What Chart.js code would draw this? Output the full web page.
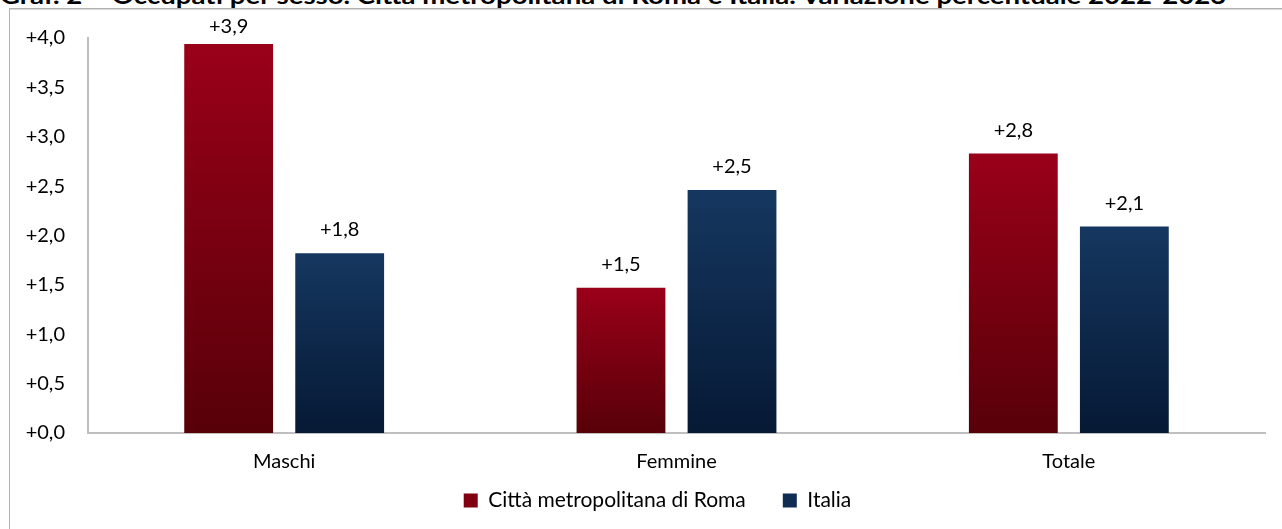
<!DOCTYPE html>
<html>
<head>
<meta charset="utf-8">
<script src="https://cdn.jsdelivr.net/npm/chart.js@4.4.1/dist/chart.umd.min.js"></script>
<style>
  body { margin: 0; background: #fff; overflow: hidden; }
  #title { position: absolute; left: 0; top: -18px; white-space: nowrap; font: bold 22px Lato, sans-serif; color: #000; transform-origin: 0 0; }
  #frame { position: absolute; left: 9px; top: 8px; width: 1320px; height: 600px; border: 1px solid #b3b3b3; box-shadow: 0 1px 0 #d9d9d9 inset; }
  #wrap { position: absolute; left: 0; top: 0; width: 1282px; height: 529px; }
</style>
</head>
<body>
<div id="title">Graf. 2 – Occupati per sesso. Città metropolitana di Roma e Italia. Variazione percentuale 2022-2023</div>
<div id="frame"></div>
<div id="wrap"><canvas id="chart"></canvas></div>
<script>
const categories = ['Maschi', 'Femmine', 'Totale'];
const roma = [3.94, 1.47, 2.83];
const italia = [1.82, 2.46, 2.09];
const seriesNames = ['Città metropolitana di Roma', 'Italia'];

const FONT = 'Lato, sans-serif';
const fmt = v => '+' + v.toFixed(1).replace('.', ',');

// title is wider in the original (Calibri bold), stretch it to match
const title = document.getElementById('title');
title.style.transform = 'scaleX(' + (1227 / title.scrollWidth) + ')';

// gradient from bar top to bar bottom, like the Excel fill
function barGradient(top, bottom) {
    return (c) => {
        const chart = c.chart;
        if (!chart.chartArea || !chart.scales.y || c.raw === undefined) return top;
        const y0 = chart.scales.y.getPixelForValue(0);
        const y1 = chart.scales.y.getPixelForValue(c.raw);
        const g = chart.ctx.createLinearGradient(0, y1, 0, y0);
        g.addColorStop(0, top);
        g.addColorStop(1, bottom);
        return g;
    };
}

const valueLabels = {
    id: 'valueLabels',
    afterDatasetsDraw(chart) {
        const ctx = chart.ctx;
        ctx.save();
        ctx.font = '20px ' + FONT;
        ctx.fillStyle = '#000';
        ctx.textAlign = 'center';
        ctx.textBaseline = 'alphabetic';
        chart.data.datasets.forEach((ds, i) => {
            chart.getDatasetMeta(i).data.forEach((bar, j) => {
                const y = Math.max(bar.y - 17, chart.chartArea.top - 5);
                ctx.fillText(fmt(ds.data[j]), bar.x, y);
            });
        });
        ctx.restore();
    }
};

// legend uses a wide item gap; pull it up so the wide padding doesn't push it off the bottom
const legendShift = {
    id: 'legendShift',
    afterLayout(chart) {
        const lg = chart.legend;
        lg.top = chart.chartArea.bottom + 57 - lg.options.labels.padding;
        lg.bottom = chart.height;
        lg.height = lg.bottom - lg.top;
        // excel centres it a bit right of the plot
        lg.left += 14;
        lg.right += 14;
    }
};

const legendColors = ['#80000f', '#0f2d52'];

new Chart(document.getElementById('chart').getContext('2d'), {
    type: 'bar',
    data: {
        labels: categories,
        datasets: [
            { label: seriesNames[0], data: roma, backgroundColor: barGradient('#9a0019', '#570008') },
            { label: seriesNames[1], data: italia, backgroundColor: barGradient('#15375f', '#061935') }
        ]
    },
    options: {
        responsive: true,
        maintainAspectRatio: false,
        animation: false,
        categoryPercentage: 0.566,
        barPercentage: 0.8,
        layout: { padding: { left: 22, top: 38, right: 17, bottom: 9 } },
        plugins: {
            tooltip: { enabled: false },
            legend: {
                position: 'bottom',
                maxHeight: 40,
                labels: {
                    font: { family: FONT, size: 21 },
                    color: '#000',
                    boxWidth: 14,
                    boxHeight: 14,
                    padding: 37,
                    generateLabels: (chart) => chart.data.datasets.map((ds, i) => ({
                        text: ds.label, fillStyle: legendColors[i], strokeStyle: legendColors[i],
                        lineWidth: 0, datasetIndex: i, fontColor: '#000'
                    }))
                }
            }
        },
        scales: {
            x: {
                grid: { display: false, drawTicks: false },
                border: { display: true, color: '#bfbfbf', width: 2 },
                ticks: { font: { family: FONT, size: 20 }, color: '#000', padding: 17 },
                afterFit: (s) => { s.height = 47; }
            },
            y: {
                min: 0, max: 4,
                grid: { display: false, drawTicks: false },
                border: { display: true, color: '#bfbfbf', width: 2 },
                ticks: {
                    stepSize: 0.5,
                    font: { family: FONT, size: 20 },
                    color: '#000',
                    padding: 23,
                    callback: (v) => fmt(v)
                },
                afterFit: (s) => { s.width = 66; }
            }
        }
    },
    plugins: [valueLabels, legendShift]
});
</script>
</body>
</html>
